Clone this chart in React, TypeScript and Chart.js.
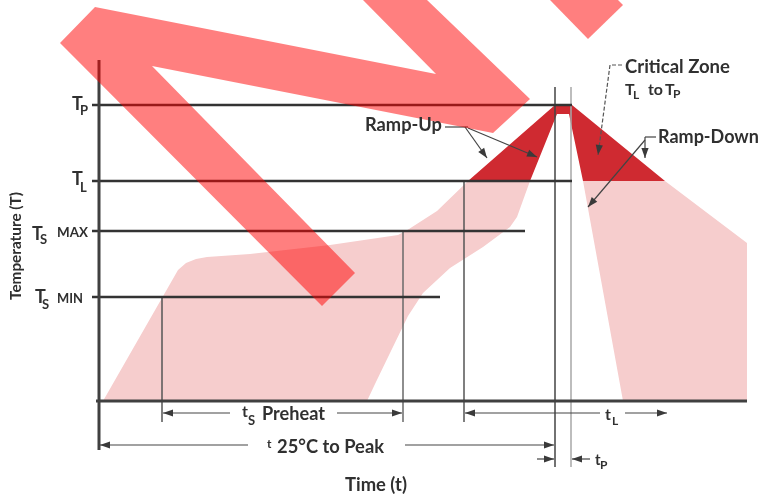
import { useEffect, useRef } from 'react';
import { Chart, registerables } from 'chart.js';

Chart.register(...registerables);

// ---- schematic units: time t (x) and temperature T (y) ----
// temperature levels: TP, TL, TS MAX, TS MIN
const levelValues = [296, 220, 170, 104];
const levelLineEnds = [473, 473, 426, 341];
const levelLineStart = -7;

// time markers: ts min, ts max, tL start, peak start, peak end
const markerTimes = [63, 304, 365, 456, 472];
const markerTops = [104, 170, 220, 314, 314];
const markerBottoms = [-21, -21, -21, -66, -66];

// axes
const yAxisLine = [[0, 341], [0, -49]];
const xAxisLine = [[-3, 0], [648, 0]];

// reflow envelope (light) — ramp/soak/reflow side
const heatingZone = [
  [4, 0], [71, 117], [79, 131], [87, 138], [97, 142], [108, 144], [151, 147], [231, 156],
  [299, 166], [310, 172], [338, 190], [369, 220], [431, 220], [418, 184], [411, 174],
  [384, 154], [351, 133], [324, 108], [309, 85], [291, 48], [276, 17], [268, 0],
];
// cooling side envelope
const coolingZone = [[484, 220], [566, 220], [648, 158], [648, 0], [524, 0]];
// critical zone TL to TP
const criticalZone = [
  [369, 220], [456, 296], [473, 296], [566, 220], [484, 220], [470, 287], [458, 287], [431, 220],
];
// watermark strokes
const watermarkMain = [
  [-39, 358], [-4, 394], [337, 327], [264, 401], [328, 401], [431, 302], [394, 268],
  [53, 335], [256, 128], [223, 95],
];
const watermarkTop = [[451, 401], [489, 362], [524, 396], [519, 401]];

// dimension arrows (arrowhead at last point)
const dimensionArrows = [
  [[131, -12], [64, -12]],
  [[238, -12], [303, -12]],
  [[149, -44], [1, -44]],
  [[306, -44], [455, -44]],
  [[501, -12], [366, -12]],
  [[526, -12], [568, -12]],
  [[438, -58], [455, -58]],
  [[491, -58], [473, -58]],
];
// callout arrows
const calloutArrows = [
  [[366, 274], [388, 243]],
  [[369, 273], [438, 244]],
  [[546, 264], [546, 243]],
  [[546, 261], [489, 194]],
];
const calloutLeaders = [
  [[346, 274], [369, 274]],
  [[557, 264], [546, 264]],
];
const criticalLeader = [[523, 336], [511, 336], [499, 246]];

// text
const wordLabels = [
  { text: 'MAX', t: -42, T: 164, w: 31 },
  { text: 'MIN', t: -42, T: 98, w: 26 },
  { text: 'Ramp-Up', t: 266, T: 270, w: 77 },
  { text: 'Critical Zone', t: 526, T: 328, w: 105 },
  { text: 'to', t: 549, T: 306, w: 15 },
  { text: 'Ramp-Down', t: 559, T: 258, w: 101 },
  { text: 'Preheat', t: 163, T: -19, w: 63 },
  { text: '25°C to Peak', t: 178, T: -52, w: 107 },
  { text: 'Time (t)', t: 246, T: -90, w: 62 },
];
const symbolLabels = [
  { main: 'T', sub: 'P', t: -27, T: 291, size: 18, subSize: 13, dx: 8, dy: 5 },
  { main: 'T', sub: 'L', t: -27, T: 216, size: 18, subSize: 13, dx: 8, dy: 7 },
  { main: 'T', sub: 'S', t: -67, T: 161, size: 18, subSize: 13, dx: 8, dy: 4 },
  { main: 'T', sub: 'S', t: -64, T: 98, size: 18, subSize: 13, dx: 7, dy: 6 },
  { main: 'T', sub: 'L', t: 526, T: 306, size: 16, subSize: 12, dx: 8, dy: 4 },
  { main: 'T', sub: 'P', t: 566, T: 306, size: 16, subSize: 12, dx: 8, dy: 3 },
  { main: 't', sub: 'S', t: 143, T: -16, size: 16, subSize: 13, dx: 6, dy: 8 },
  { main: 't', sub: 'L', t: 506, T: -19, size: 16, subSize: 12, dx: 7, dy: 5 },
  { main: 't', sub: 'P', t: 496, T: -64, size: 15, subSize: 12, dx: 5, dy: 4 },
  { main: 't', sub: '', t: 168, T: -47, size: 12, subSize: 0, dx: 0, dy: 0 },
];
const yTitle = { text: 'Temperature (T)', t: -83, T: 155, w: 108 };

const FONT = 'Lato, "DejaVu Sans", sans-serif';
const WEIGHT = 'bold';
const TEXT_COLOR = '#303030';
const PINK = '#f6cdcd';
const RED = '#cf2a31';
const WATERMARK = 'rgba(255,0,0,0.5)';

const toXY = (pts: number[][]) => pts.map(([t, T]) => ({ x: t, y: T }));

function area(pts: number[][], color: string, order: number) {
  return {
    data: toXY(pts),
    showLine: true,
    fill: 'shape',
    backgroundColor: color,
    borderColor: 'rgba(0,0,0,0)',
    borderWidth: 0,
    pointRadius: 0,
    order,
  };
}

function line(pts: number[][], color: string, width: number, order: number, dash: number[] = []) {
  return {
    data: toXY(pts),
    showLine: true,
    fill: false,
    borderColor: color,
    backgroundColor: color,
    borderWidth: width,
    borderDash: dash,
    borderCapStyle: 'butt',
    pointRadius: 0,
    order,
  };
}

function buildDatasets() {
  const ds: any[] = [];
  ds.push(area(heatingZone, PINK, 6));
  ds.push(area(coolingZone, PINK, 6));
  ds.push(area(criticalZone, RED, 5));
  levelValues.forEach((v, i) => {
    ds.push(line([[levelLineStart, v], [levelLineEnds[i], v]], '#333333', 2.3, 4));
  });
  const markerColors = ['#555', '#6a6a6a', '#555', '#444', '#a8a8a8'];
  markerTimes.forEach((t, i) => {
    ds.push(line([[t, markerTops[i]], [t, markerBottoms[i]]], markerColors[i], 1.5, 4));
  });
  ds.push(line(yAxisLine, '#404040', 3, 3));
  ds.push(line(xAxisLine, '#404040', 3, 3));
  [...dimensionArrows, ...calloutArrows, ...calloutLeaders].forEach((a) => {
    ds.push(line(a, '#444', 1.2, 3));
  });
  ds.push(line(criticalLeader, '#555', 1.2, 3, [4, 2]));
  ds.push(area(watermarkMain, WATERMARK, 0));
  ds.push(area(watermarkTop, WATERMARK, 0));
  return ds;
}

const arrowPlugin = {
  id: 'arrowHeads',
  afterDatasetsDraw(chart: any) {
    const { ctx, scales } = chart;
    const x = scales.x;
    const y = scales.y;
    const all = [...dimensionArrows, ...calloutArrows, criticalLeader];
    ctx.save();
    ctx.fillStyle = '#3a3a3a';
    all.forEach((pts) => {
      const a = pts[pts.length - 2];
      const b = pts[pts.length - 1];
      const x1 = x.getPixelForValue(a[0]);
      const y1 = y.getPixelForValue(a[1]);
      const x2 = x.getPixelForValue(b[0]);
      const y2 = y.getPixelForValue(b[1]);
      const ang = Math.atan2(y2 - y1, x2 - x1);
      const len = 10;
      const hw = 3.6;
      ctx.beginPath();
      ctx.moveTo(x2, y2);
      ctx.lineTo(x2 - len * Math.cos(ang) + hw * Math.sin(ang), y2 - len * Math.sin(ang) - hw * Math.cos(ang));
      ctx.lineTo(x2 - len * Math.cos(ang) - hw * Math.sin(ang), y2 - len * Math.sin(ang) + hw * Math.cos(ang));
      ctx.closePath();
      ctx.fill();
    });
    ctx.restore();
  },
};

const textPlugin = {
  id: 'diagramText',
  afterDatasetsDraw(chart: any) {
    const { ctx, scales } = chart;
    const x = scales.x;
    const y = scales.y;
    ctx.save();
    ctx.fillStyle = TEXT_COLOR;
    ctx.textAlign = 'left';
    ctx.textBaseline = 'alphabetic';
    const fit = (text: string, w: number) => {
      ctx.font = `${WEIGHT} 20px ${FONT}`;
      const m = ctx.measureText(text).width;
      return (20 * w) / m;
    };
    wordLabels.forEach((l) => {
      const s = fit(l.text, l.w);
      ctx.font = `${WEIGHT} ${s}px ${FONT}`;
      ctx.fillText(l.text, x.getPixelForValue(l.t), y.getPixelForValue(l.T));
    });
    symbolLabels.forEach((l) => {
      const px = x.getPixelForValue(l.t);
      const py = y.getPixelForValue(l.T);
      ctx.font = `${WEIGHT} ${l.size}px ${FONT}`;
      ctx.fillText(l.main, px, py);
      if (l.sub) {
        ctx.font = `${WEIGHT} ${l.subSize}px ${FONT}`;
        ctx.fillText(l.sub, px + l.dx, py + l.dy);
      }
    });
    const s = fit(yTitle.text, yTitle.w);
    ctx.translate(x.getPixelForValue(yTitle.t), y.getPixelForValue(yTitle.T));
    ctx.rotate(-Math.PI / 2);
    ctx.textAlign = 'center';
    ctx.textBaseline = 'middle';
    ctx.font = `${WEIGHT} ${s}px ${FONT}`;
    ctx.fillText(yTitle.text, 0, 0);
    ctx.restore();
  },
};

export default function App() {
  const ref = useRef<HTMLCanvasElement>(null);
  useEffect(() => {
    if (!ref.current) return;
    const chart = new Chart(ref.current, {
      type: 'scatter',
      data: { datasets: buildDatasets() },
      options: {
        responsive: false,
        animation: false,
        events: [],
        layout: { padding: 0 },
        plugins: { legend: { display: false }, tooltip: { enabled: false } },
        scales: {
          x: { type: 'linear', min: -99, max: 663, display: false },
          y: { type: 'linear', min: -96, max: 401, display: false },
        },
        elements: { point: { radius: 0, hoverRadius: 0 }, line: { tension: 0 } },
      } as any,
      plugins: [arrowPlugin, textPlugin],
    } as any);
    return () => chart.destroy();
  }, []);
  return (
    <div style={{ position: 'fixed', left: 0, top: 0, width: 762, height: 497, background: '#ffffff' }}>
      <canvas ref={ref} width={762} height={497} style={{ width: 762, height: 497, display: 'block' }} />
    </div>
  );
}
